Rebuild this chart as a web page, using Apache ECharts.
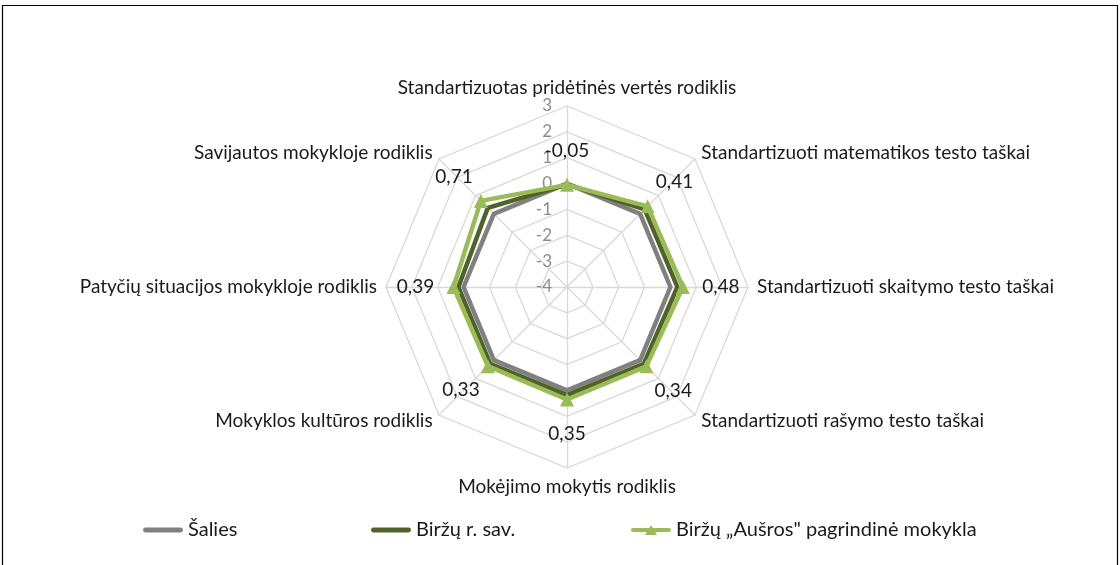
<!DOCTYPE html>
<html>
<head>
<meta charset="utf-8">
<script src="https://cdn.jsdelivr.net/npm/echarts@6/dist/echarts.min.js"></script>
<style>
  html, body { margin: 0; padding: 0; background: #fff; }
  #chart { width: 1120px; height: 565px; }
</style>
</head>
<body>
<div id="chart"></div>
<script>
// kategorijos pagal laikrodžio rodyklę, pradedant viršumi
var categories = [
    'Standartizuotas pridėtinės vertės rodiklis',
    'Standartizuoti matematikos testo taškai',
    'Standartizuoti skaitymo testo taškai',
    'Standartizuoti rašymo testo taškai',
    'Mokėjimo mokytis rodiklis',
    'Mokyklos kultūros rodiklis',
    'Patyčių situacijos mokykloje rodiklis',
    'Savijautos mokykloje rodiklis'
];
var seriesNames = ['Šalies', 'Biržų r. sav.', 'Biržų „Aušros" pagrindinė mokykla'];
var saliesValues = [0, 0, 0, 0, 0, 0, 0, 0];
var birzuSavValues = [-0.03, 0.25, 0.27, 0.2, 0.18, 0.2, 0.2, 0.33];
var ausrosValues = [-0.05, 0.41, 0.48, 0.34, 0.35, 0.33, 0.39, 0.71];
var axisMin = -4;
var axisMax = 3;

var cx = 567, cy = 287;

// echarts deda ašis prieš laikrodžio rodyklę, todėl apverčiam tvarką
var order = [0, 7, 6, 5, 4, 3, 2, 1];
function pick(arr) {
    return order.map(function (i) { return arr[i]; });
}

var dom = document.getElementById('chart');
var myChart = echarts.init(dom, null, { renderer: 'canvas' });

var indicators = pick(categories).map(function (name, i) {
    return {
        name: name,
        min: axisMin,
        max: axisMax,
        axisLabel: { show: i === 0 }
    };
});

function legendFor(name, left) {
    return {
        data: [name],
        left: left,
        top: 515,
        itemWidth: 40,
        itemHeight: 10,
        selectedMode: false,
        textStyle: { fontSize: 20, color: '#1a1a1a', fontFamily: 'Lato' }
    };
}

var lineIcon = 'path://M2,2.5H38A2.5,2.5 0 0 1 38,7.5H2A2.5,2.5 0 0 1 2,2.5Z';
var triIcon = 'path://M2,3H38A2,2 0 0 1 38,7H2A2,2 0 0 1 2,3Z M20,0L26,10L14,10Z';

var option = {
    backgroundColor: '#fff',
    animation: false,
    graphic: [{
        type: 'rect',
        shape: { x: 2.5, y: 5.5, width: 1115, height: 600 },
        style: { fill: 'none', stroke: '#000', lineWidth: 1.2 },
        silent: true
    }],
    legend: [
        Object.assign(legendFor(seriesNames[0], 138), { icon: lineIcon }),
        Object.assign(legendFor(seriesNames[1], 366), { icon: lineIcon }),
        Object.assign(legendFor(seriesNames[2], 626), { icon: triIcon })
    ],
    radar: {
        center: [cx, cy],
        radius: 181,
        startAngle: 90,
        shape: 'polygon',
        splitNumber: 7,
        nameGap: 9,
        axisName: {
            color: '#1a1a1a',
            fontSize: 19,
            fontFamily: 'Lato'
        },
        axisLine: { lineStyle: { color: '#d9d9d9', width: 1.3 } },
        splitLine: { lineStyle: { color: '#d9d9d9', width: 1.3 } },
        splitArea: { show: false },
        axisTick: { show: false },
        axisLabel: {
            show: true,
            color: '#8c8c8c',
            fontSize: 17,
            fontFamily: 'Lato',
            margin: 15
        },
        indicator: indicators
    },
    series: [
        {
            type: 'radar',
            name: seriesNames[0],
            color: '#808080',
            symbol: 'none',
            lineStyle: { width: 4.5, color: '#808080' },
            data: [{ name: seriesNames[0], value: pick(saliesValues) }],
            z: 2
        },
        {
            type: 'radar',
            name: seriesNames[1],
            color: '#4f6228',
            symbol: 'none',
            lineStyle: { width: 4.5, color: '#4f6228' },
            data: [{ name: seriesNames[1], value: pick(birzuSavValues) }],
            z: 3
        },
        {
            type: 'radar',
            name: seriesNames[2],
            color: '#9bbb59',
            symbol: 'triangle',
            symbolSize: 14,
            lineStyle: { width: 4.5, color: '#9bbb59' },
            itemStyle: { color: '#9bbb59' },
            label: {
                show: true,
                color: '#1a1a1a',
                fontSize: 19,
                fontFamily: 'Lato',
                position: 'inside',
                formatter: function (p) {
                    return p.value.toFixed(2).replace('.', ',');
                }
            },
            // etiketes stumiam nuo centro į išorę
            labelLayout: function (params) {
                var r = params.rect;
                var ex = r.x + r.width / 2;
                var ey = r.y + r.height / 2;
                var dx = ex - cx, dy = ey - cy;
                var len = Math.sqrt(dx * dx + dy * dy) || 1;
                var lr = params.labelRect;
                var tx = ex + dx / len * 38;
                var ty = ey + dy / len * 34;
                return {
                    dx: tx - (lr.x + lr.width / 2),
                    dy: ty - (lr.y + lr.height / 2)
                };
            },
            data: [{ name: seriesNames[2], value: pick(ausrosValues) }],
            z: 4
        }
    ]
};

if (option && typeof option === 'object') {
    myChart.setOption(option);
}

window.addEventListener('resize', myChart.resize);
</script>
</body>
</html>
